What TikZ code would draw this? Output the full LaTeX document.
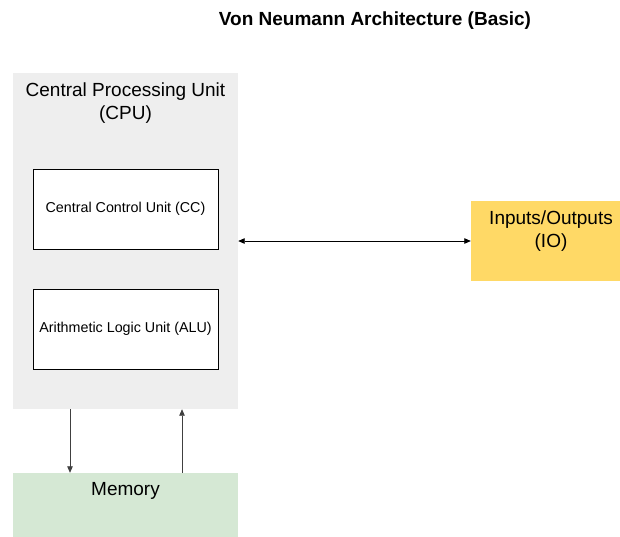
\documentclass[tikz,border=0pt]{standalone}
\usepackage{fontspec}
\setmainfont{Liberation Sans}
\usetikzlibrary{arrows.meta, positioning}
\definecolor{cpugray}{HTML}{EEEEEE}
\definecolor{iofill}{HTML}{FFD966}
\definecolor{memfill}{HTML}{D5E8D4}

\begin{document}
\begin{tikzpicture}[x=1pt, y=-1pt, font=\fontsize{19}{23}\selectfont, inner sep=0pt,
	area/.style={draw=none, minimum width=#1},
	unit/.style={draw, line width=0.8pt, fill=white, minimum width=185pt, minimum height=80pt, font=\fontsize{14.3}{17}\selectfont},
	link/.style={line width=0.8pt, >={Triangle[length=6.5pt, width=5.5pt]}}]
	\def\off{55.5pt}
	\useasboundingbox (0,0) rectangle (620,536);

	\node[anchor=base, font=\bfseries\fontsize{19}{23}\selectfont] (title) at (375,25) {Von Neumann Architecture (Basic)};

	\node[area=225pt, fill=cpugray, minimum height=336pt] (cpu) at (125.5,241) {};
	\node[align=center, below=9.5pt of cpu.north] (cputxt) {Central Processing Unit\\(CPU)};
	\node[unit] (cc) at (125.5,209) {Central Control Unit (CC)};
	\node[unit] (alu) at (125.5,329) {Arithmetic Logic Unit (ALU)};

	\node[area=160pt, fill=iofill, minimum height=80pt] (io) at (551,241) {};
	\node[align=center, below=10pt of io.north] (iotxt) {Inputs/Outputs\\(IO)};

	\node[area=225pt, fill=memfill, minimum height=80pt] (mem) at (125.5,513) {};
	\node[below=9pt of mem.north] (memtxt) {Memory};

	\draw[link, <->] (cpu) -- (io);
	\draw[link, ->, black!75] ([xshift=-\off]cpu.south) -- ([xshift=-\off]mem.north);
	\draw[link, ->, black!75] ([xshift=\off+1pt]mem.north) -- ([xshift=\off+1pt]cpu.south);
\end{tikzpicture}
\end{document}
